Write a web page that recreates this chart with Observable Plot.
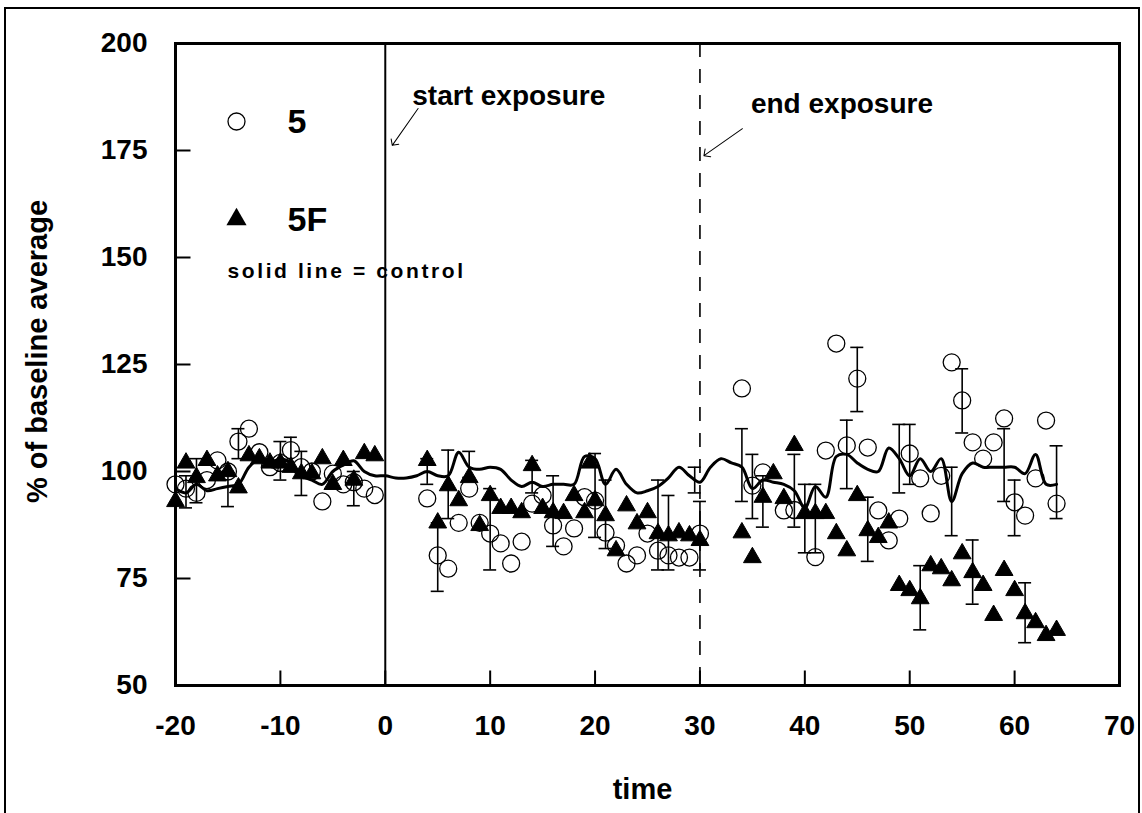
<!DOCTYPE html>
<html><head><meta charset="utf-8">
<script src="https://cdn.jsdelivr.net/npm/d3@7"></script>
<script src="https://cdn.jsdelivr.net/npm/@observablehq/plot@0.6"></script>
<style>
body{margin:0;background:#fff;}
#wrap{position:relative;width:1142px;height:813px;overflow:hidden;background:#fff;}
#border{position:absolute;left:4px;top:7px;width:1136px;height:840px;border:2px solid #000;box-sizing:border-box;}
#chart{position:absolute;left:0;top:0;}
</style></head><body>
<div id="wrap"><div id="border"></div><div id="chart"></div></div>
<script>
// ---- data ----
const xTicks = [-20, -10, 0, 10, 20, 30, 40, 50, 60, 70];
const yTicks = [50, 75, 100, 125, 150, 175, 200];
const xLabel = "time";
const yLabel = "% of baseline average";

const controlTime = [-20,-19,-18,-17,-16,-15,-14,-13,-12,-11,-10,-9,-8,-7,-6,-5,-4,-3,-2,-1,0,1,2,3,4,5,6,7,8,9,10,11,12,13,14,15,16,17,18,19,20,21,22,23,24,25,26,27,28,29,30,31,32,33,34,35,36,37,38,39,40,41,42,43,44,45,46,47,48,49,50,51,52,53,54,55,56,57,58,59,60,61,62,63,64];
const controlValue = [96,95,97,95.5,96,96.5,97,101,103,102,103,102,99,98,97,100,101.5,102.5,100,99,99,98.5,98.5,99,100,99,99,104.5,101,100.5,101,100.5,98,96.5,97.5,96.5,97,97,97,103.5,103,97,100.5,97,95,95.5,96.5,98.5,101,99,97.5,101,103,102,101,96,98,97.5,97,95.5,91.5,96.5,94,103.5,104,102,100.5,100,105.5,103,99,103,100,103,93,99.5,102,101,101,101,101,99.5,104,97,97];

const group5Time = [-20,-19,-18,-17,-16,-15,-14,-13,-12,-11,-10,-9,-8,-7,-6,-5,-4,-3,-2,-1,4,5,6,7,8,9,10,11,12,13,14,15,16,17,18,19,20,21,22,23,24,25,26,27,28,29,30,34,35,36,38,39,41,42,43,44,45,46,47,48,49,50,51,52,53,54,55,56,57,58,59,60,61,62,63,64];
const group5Value = [97,96,95,98,102.6,100,107,110,104.5,101,102,105,101,100,93,99.5,97,97.5,96,94.5,93.7,80.4,77.3,88,96,88,85.5,83.2,78.5,83.6,92.5,94.4,87.4,82.5,86.7,94,93.2,85.7,82.7,78.5,80.4,85.5,81.5,80.4,79.9,79.9,85.5,119.4,96.7,99.8,90.9,91,80,104.9,129.9,106.1,121.7,105.6,90.9,83.9,89,104.2,98.4,90.2,99,125.5,116.6,106.8,103,106.8,112.4,92.8,89.7,98.4,111.9,92.5];

const group5FTime = [-20,-19,-18,-17,-16,-15,-14,-13,-12,-11,-10,-9,-8,-7,-6,-5,-4,-3,-2,-1,4,5,6,7,8,9,10,11,12,13,14,15,16,17,18,19,19.5,20,21,22,23,24,25,26,27,28,29,30,34,35,36,37,38,39,40,41,42,43,44,45,46,47,48,49,50,51,52,53,54,55,56,57,58,59,60,61,62,63,64];
const group5FValue = [93,102,98.6,102.6,99,100,96.2,103.7,103,102,102,101,99.5,99.5,103,97,102.6,98,104.2,103.7,102.6,88,96.7,93.2,98.6,87.4,94.4,91.4,91.4,90.4,101.4,91.4,90.4,90.2,94.4,90.4,102,93.2,89.7,81.5,92,87.8,90.4,85.5,85,85.7,85,83.9,85.7,79.9,94,99.5,93.7,106.1,90.2,90.2,90.2,85.5,81.5,94.4,86.2,84.6,88,73.4,72.2,70.3,78,77.3,74.5,80.8,76.4,73.4,66.4,76.9,72.2,66.8,64.7,61.7,62.9];

const errTime = [-19,-18,-15,-14,-10,-9,-8,-3,4,5,6,8,10,14,16,20,21,26,27,29.5,30,34,35,36,39,40,41,44,45,46,49,50,51,54,55,56,59,60,61,64];
const errLow  = [91.5,92.7,91.8,103,98,100,94.4,92,97,72,89,98.6,77,95,82.5,84.6,82,77,77,95,77,93,89,87,87,81,81,96,114,79,95,97,63,85,109,69,93,85,60,89];
const errHigh = [99,103,100,110,107,108,104.7,100,103,88,105,104.7,96,102.6,99,104.2,98,98,94.4,101,93,110,104,99,104,97,97,112,129,94,111,111,78,101,124,84,110,98,74,106];

const eventTime = [0, 30];
const eventLabel = ["start exposure", "end exposure"];
const eventStyle = ["solid", "dashed"];
const arrowLevel = [176.2, 173.8];
const legendLabels = ["5", "5F", "solid line = control"];

// ---- tables ----
const control = controlTime.map((t, i) => ({t, v: controlValue[i]}));
const g5 = group5Time.map((t, i) => ({t, v: group5Value[i]}));
const g5F = group5FTime.map((t, i) => ({t, v: group5FValue[i]}));
const errs = errTime.map((t, i) => ({t, lo: errLow[i], hi: errHigh[i]}));
const events = eventTime.map((t, i) => ({t, label: eventLabel[i], style: eventStyle[i], level: arrowLevel[i]}));

const font = "'Liberation Sans', Arial, Helvetica, sans-serif";
const capHalf = 0.62;

// inward tick marks as custom symbols
const tickUp = {draw(ctx) { ctx.moveTo(0, 0); ctx.lineTo(0, -15); }};
const tickRight = {draw(ctx) { ctx.moveTo(0, 0); ctx.lineTo(15, 0); }};

const plot = Plot.plot({
  width: 1142,
  height: 813,
  marginLeft: 175,
  marginRight: 23,
  marginTop: 43,
  marginBottom: 128,
  x: {domain: [-20, 70]},
  y: {domain: [50, 200]},
  style: {fontFamily: font, background: "transparent", color: "#000", overflow: "visible"},
  marks: [
    Plot.ruleX(events.filter(d => d.style === "solid"), {x: "t", stroke: "#000", strokeWidth: 2}),
    Plot.ruleX(events.filter(d => d.style === "dashed"), {x: "t", stroke: "#000", strokeWidth: 1.6, strokeDasharray: "14,12"}),
    Plot.line(control, {x: "t", y: "v", stroke: "#000", strokeWidth: 3, curve: "catmull-rom"}),
    Plot.ruleX(errs, {x: "t", y1: "lo", y2: "hi", stroke: "#000", strokeWidth: 1.6}),
    Plot.ruleY(errs, {y: "lo", x1: d => d.t - capHalf, x2: d => d.t + capHalf, stroke: "#000", strokeWidth: 1.6}),
    Plot.ruleY(errs, {y: "hi", x1: d => d.t - capHalf, x2: d => d.t + capHalf, stroke: "#000", strokeWidth: 1.6}),
    Plot.dot(g5, {x: "t", y: "v", r: 8.5, stroke: "#000", strokeWidth: 1.3, fill: "none"}),
    Plot.dot(g5F, {x: "t", y: "v", r: 6.6, symbol: "triangle", fill: "#000", stroke: "#000", strokeWidth: 1}),
    Plot.frame({stroke: "#000", strokeWidth: 3}),
    Plot.dot(xTicks.slice(1, -1), {x: d => d, frameAnchor: "bottom", symbol: tickUp, r: 5, stroke: "#000", strokeWidth: 2, fill: "none"}),
    Plot.dot(yTicks.slice(1, -1), {y: d => d, frameAnchor: "left", symbol: tickRight, r: 5, stroke: "#000", strokeWidth: 2, fill: "none"}),
    Plot.axisX({ticks: xTicks, tickSize: 0, tickPadding: 30, tickFormat: d => String(d), fontSize: 28, fontWeight: "bold", label: null}),
    Plot.axisY({ticks: yTicks, tickSize: 0, tickPadding: 28, tickFormat: d => String(d), fontSize: 28, fontWeight: "bold", label: null}),
    Plot.text([xLabel], {frameAnchor: "bottom", dx: -5, dy: 104, lineAnchor: "middle", text: d => d, fontSize: 29, fontWeight: "bold"}),
    Plot.text([yLabel], {frameAnchor: "left", dx: -138, dy: -13, rotate: -90, textAnchor: "middle", lineAnchor: "middle", text: d => d, fontSize: 29, fontWeight: "bold"}),
    // event annotations
    Plot.text(events.slice(0, 1), {x: "t", frameAnchor: "top", dx: 27, dy: 53, lineAnchor: "middle", text: "label", textAnchor: "start", fontSize: 28, fontWeight: "bold"}),
    Plot.text(events.slice(1, 2), {x: "t", frameAnchor: "top", dx: 51, dy: 61, lineAnchor: "middle", text: "label", textAnchor: "start", fontSize: 28, fontWeight: "bold"}),
    Plot.vector(events.slice(0, 1), {x: "t", y: "level", dx: 7, anchor: "end", length: 45, rotate: 215, stroke: "#000", strokeWidth: 1, r: 1.8}),
    Plot.vector(events.slice(1, 2), {x: "t", y: "level", dx: 4, anchor: "end", length: 47, rotate: 235, stroke: "#000", strokeWidth: 1, r: 1.8}),
    // legend
    Plot.dot(legendLabels.slice(0, 1), {frameAnchor: "top-left", dx: 61, dy: 78, r: 8.5, stroke: "#000", strokeWidth: 1.3, fill: "none"}),
    Plot.dot(legendLabels.slice(1, 2), {frameAnchor: "top-left", dx: 61, dy: 176, r: 7.5, symbol: "triangle", fill: "#000"}),
    Plot.text(legendLabels.slice(0, 1), {frameAnchor: "top-left", dx: 112, dy: 79, lineAnchor: "middle", text: d => d, textAnchor: "start", fontSize: 34, fontWeight: "bold"}),
    Plot.text(legendLabels.slice(1, 2), {frameAnchor: "top-left", dx: 112, dy: 177, lineAnchor: "middle", text: d => d, textAnchor: "start", fontSize: 34, fontWeight: "bold"}),
    Plot.text(legendLabels.slice(2, 3), {frameAnchor: "top-left", dx: 52, dy: 228, lineAnchor: "middle", text: d => d, textAnchor: "start", fontSize: 21, fontWeight: "bold"})
  ]
});
d3.select(plot).selectAll("text").filter(function() { return this.textContent === legendLabels[2]; }).style("letter-spacing", "2.6px");
document.getElementById("chart").appendChild(plot);
</script>
</body></html>
